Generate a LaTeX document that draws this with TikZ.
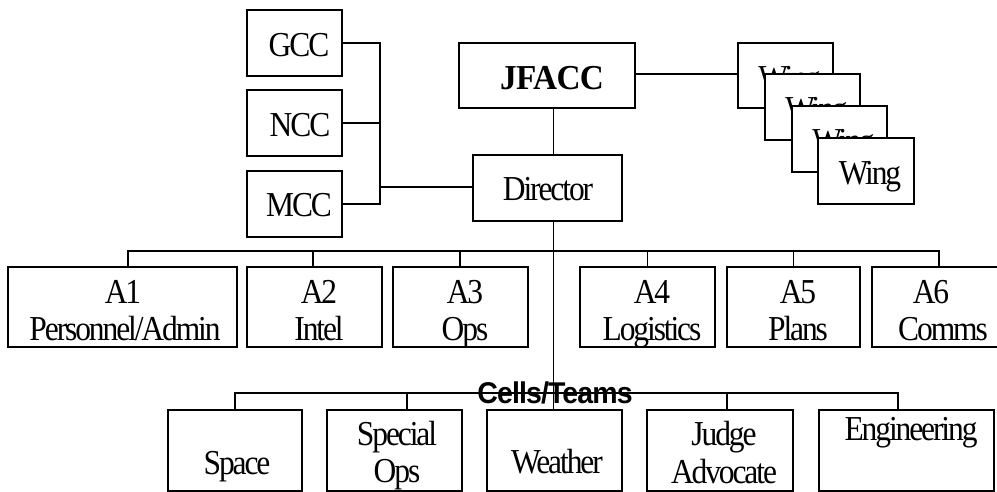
\documentclass[tikz,border=0pt]{standalone}
\usepackage{fontspec}
\setmainfont{Liberation Serif}[FakeStretch=0.9,LetterSpace=-6]
\newfontfamily\jffont{Liberation Serif}[FakeStretch=0.95,LetterSpace=-2]
\newfontfamily\cellfont{Liberation Sans}[FakeStretch=0.95,LetterSpace=-3]
\usetikzlibrary{calc}
\begin{document}
\begin{tikzpicture}[x=1pt,y=-1pt,
  box/.style={draw,line width=1.6pt,fill=white,inner sep=0pt,outer sep=0pt},
  txt/.style={anchor=base,inner sep=0pt,font=\fontsize{35}{37}\selectfont},
  wire/.style={line width=1.6pt}]
\useasboundingbox (0,0) rectangle (997,492);

% ---- boxes: left column
\node[box,minimum width=95pt,minimum height=66pt] (gcc) at (294.5,43) {};
\node[box,minimum width=95pt,minimum height=66pt] (ncc) at (294.5,123) {};
\node[box,minimum width=95pt,minimum height=66pt] (mcc) at (294.5,204) {};
% ---- JFACC and Director
\node[box,minimum width=176pt,minimum height=65pt] (jfacc) at (547,75.5) {};
\node[box,minimum width=149pt,minimum height=66pt] (dir) at (547.5,188) {};
% ---- A row
\node[box,minimum width=229pt,minimum height=80pt] (a1) at (122.5,307) {};
\node[box,minimum width=135pt,minimum height=80pt] (a2) at (314.5,307) {};
\node[box,minimum width=135pt,minimum height=80pt] (a3) at (460.5,307) {};
\node[box,minimum width=135pt,minimum height=80pt] (a4) at (647.5,307) {};
\node[box,minimum width=133pt,minimum height=80pt] (a5) at (793.5,307) {};
\node[box,minimum width=136pt,minimum height=80pt] (a6) at (940,307) {};
% ---- Cells row
\node[box,minimum width=134pt,minimum height=81pt] (space) at (235,450.5) {};
\node[box,minimum width=135pt,minimum height=81pt] (sops) at (394.5,450.5) {};
\node[box,minimum width=135pt,minimum height=81pt] (weather) at (554.5,450.5) {};
\node[box,minimum width=146pt,minimum height=81pt] (judge) at (720,450.5) {};
\node[box,minimum width=175pt,minimum height=81pt] (eng) at (906.5,450.5) {};

% ---- connectors
\coordinate (lb) at (380,187);
\coordinate (spine) at (553.5,0);
\coordinate (abus) at (0,251);
\coordinate (cbus) at (0,393);
\draw[wire] (gcc.east) -| (lb |- mcc.east) -- (mcc.east);
\draw[wire] (ncc.east) -- (ncc.east -| lb);
\draw[wire] (lb) -- (lb -| dir.west);
\draw[wire] (spine |- jfacc.south) -- (spine |- dir.north);
\draw[wire] (spine |- dir.south) -- (spine |- weather.north);
\coordinate (a1c) at ($(a1.north)+(5.5,0)$);
\coordinate (a2c) at ($(a2.north)+(-1.5,0)$);
\coordinate (a3c) at ($(a3.north)+(-0.5,0)$);
\coordinate (a6c) at ($(a6.north)+(-1,0)$);
\draw[wire] (a1c) -- (a1c |- abus) -- (a6c |- abus) -- (a6c);
\draw[wire] (a2c) -- (a2c |- abus);
\draw[wire] (a3c) -- (a3c |- abus);
\draw[wire] (a4.north) -- (a4.north |- abus);
\draw[wire] (a5.north) -- (a5.north |- abus);
\coordinate (spc) at ($(space.north)+(0,0)$);
\coordinate (soc) at ($(sops.north)+(12.5,0)$);
\coordinate (jc) at ($(judge.north)+(7,0)$);
\coordinate (ec) at ($(eng.north)+(-8.5,0)$);
\draw[wire] (spc) -- (spc |- cbus) -- (ec |- cbus) -- (ec);
\draw[wire] (soc) -- (soc |- cbus);
\draw[wire] (jc) -- (jc |- cbus);

% ---- wings (stacked)
\draw[wire] (jfacc.east |- 0,74) -- (738,74) coordinate (wl);
\node[box,minimum width=95pt,minimum height=65pt] (w1) at (785.5,75.5) {};
\node[txt] (w1t) at ($(w1)+(4,14)$) {Wing};
\node[box,minimum width=95pt,minimum height=66pt] (w2) at (812.5,107) {};
\node[txt] (w2t) at ($(w2)+(4,14)$) {Wing};
\node[box,minimum width=95pt,minimum height=66pt] (w3) at (839.5,139) {};
\node[txt] (w3t) at ($(w3)+(4,14)$) {Wing};
\node[box,minimum width=96pt,minimum height=66pt] (w4) at (866,171) {};
\node[txt] (w4t) at ($(w4)+(4,14)$) {Wing};

% ---- texts
\node[txt] (gcct) at (299,57) {GCC};
\node[txt] (ncct) at (300,137) {NCC};
\node[txt] (mcct) at (299,217) {MCC};
\node[txt,font=\fontsize{35}{37}\selectfont\jffont\bfseries] (jft) at (552,90) {JFACC};
\node[txt] (dirt) at (548,201) {Director};

\node[txt] (a1t) at (123,303) {A1};
\node[txt] (a1u) at (125,340) {Personnel/Admin};
\node[txt] (a2t) at (319,303) {A2};
\node[txt] (a2u) at (319,340) {Intel};
\node[txt] (a3t) at (465,303) {A3};
\node[txt] (a3u) at (465,340) {Ops};
\node[txt] (a4t) at (652,303) {A4};
\node[txt] (a4u) at (652,340) {Logistics};
\node[txt] (a5t) at (798,303) {A5};
\node[txt] (a5u) at (798,340) {Plans};
\node[txt] (a6t) at (931,303) {A6};
\node[txt] (a6u) at (943,340) {Comms};

\node[txt,font=\fontsize{30}{31}\selectfont\cellfont\bfseries] (cells) at (555,403) {Cells/Teams};

\node[txt] (spt) at (237,474) {Space};
\node[txt] (sot) at (397,445) {Special};
\node[txt] (sou) at (397,482) {Ops};
\node[txt] (wet) at (557,473) {Weather};
\node[txt] (jut) at (724,445) {Judge};
\node[txt] (juu) at (724,483) {Advocate};
\node[txt] (ent) at (911,440) {Engineering};
\end{tikzpicture}
\end{document}
